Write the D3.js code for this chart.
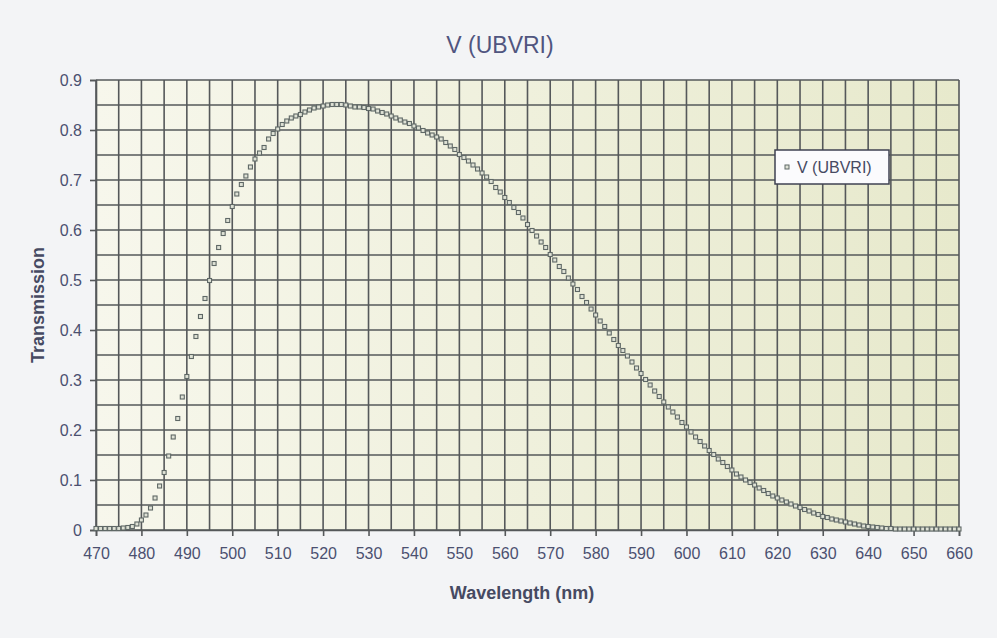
<!DOCTYPE html>
<html>
<head>
<meta charset="utf-8">
<script src="https://cdn.jsdelivr.net/npm/d3@7"></script>
<style>
	body { margin: 0; background: #f3f4f6; }
	text { font-family: "Liberation Sans", Arial, sans-serif; }
</style>
</head>
<body>
<script>
// wavelength samples (nm) and transmission
var wavelengths = d3.range(470, 661);
var transmission = [
	0.003, 0.003, 0.003, 0.003, 0.003, 0.003, 0.004, 0.005, 0.007, 0.012,
	0.020, 0.030, 0.044, 0.064, 0.088, 0.115, 0.148, 0.186, 0.223, 0.266,
	0.307, 0.347, 0.387, 0.427, 0.463, 0.499, 0.533, 0.565, 0.593, 0.619,
	0.647, 0.672, 0.691, 0.708, 0.726, 0.742, 0.754, 0.765, 0.782, 0.793,
	0.802, 0.811, 0.818, 0.824, 0.828, 0.831, 0.836, 0.840, 0.844, 0.846,
	0.848, 0.850, 0.851, 0.851, 0.851, 0.850, 0.848, 0.846, 0.846, 0.845,
	0.843, 0.842, 0.838, 0.835, 0.832, 0.828, 0.824, 0.820, 0.816, 0.813,
	0.808, 0.804, 0.799, 0.794, 0.790, 0.786, 0.782, 0.775, 0.768, 0.761,
	0.751, 0.745, 0.738, 0.730, 0.722, 0.714, 0.706, 0.697, 0.685, 0.676,
	0.665, 0.655, 0.645, 0.635, 0.624, 0.611, 0.599, 0.588, 0.576, 0.565,
	0.551, 0.540, 0.527, 0.517, 0.504, 0.492, 0.481, 0.467, 0.455, 0.442,
	0.430, 0.418, 0.407, 0.394, 0.381, 0.369, 0.359, 0.348, 0.336, 0.324,
	0.313, 0.301, 0.290, 0.278, 0.267, 0.256, 0.246, 0.236, 0.226, 0.215,
	0.206, 0.196, 0.186, 0.177, 0.168, 0.159, 0.151, 0.142, 0.135, 0.127,
	0.120, 0.112, 0.106, 0.100, 0.095, 0.090, 0.084, 0.079, 0.073, 0.068,
	0.064, 0.060, 0.056, 0.052, 0.048, 0.045, 0.041, 0.038, 0.034, 0.031,
	0.027, 0.025, 0.022, 0.020, 0.018, 0.016, 0.014, 0.012, 0.010, 0.008,
	0.007, 0.006, 0.005, 0.004, 0.003, 0.003, 0.002, 0.002, 0.002, 0.002,
	0.002, 0.002, 0.002, 0.002, 0.002, 0.002, 0.002, 0.002, 0.002, 0.002,
	0.002
];
var xTicks = d3.range(470, 661, 10);
var yTicks = [0, 0.1, 0.2, 0.3, 0.4, 0.5, 0.6, 0.7, 0.8, 0.9];
var xGrid = d3.range(470, 661, 5);
var yGrid = d3.range(0, 0.9001, 0.05);

var seriesName = 'V (UBVRI)';

var margin = {left: 96, right: 38, top: 80, bottom: 108};
var W = 997, H = 638;

var svg = d3.select('body').append('svg')
	.attr('width', W)
	.attr('height', H);

var grad = svg.append('defs').append('linearGradient')
	.attr('id', 'paper')
	.attr('x1', '0%').attr('x2', '100%')
	.attr('y1', '0%').attr('y2', '0%');
grad.append('stop').attr('offset', '0%').attr('stop-color', '#f7f7ec');
grad.append('stop').attr('offset', '100%').attr('stop-color', '#e7e9cc');

var x = d3.scaleLinear().domain([470, 660]).range([margin.left, W - margin.right]);
var y = d3.scaleLinear().domain([0, 0.9]).range([H - margin.bottom, margin.top]);

// plot area
svg.append('rect')
	.attr('x', x(470))
	.attr('y', y(0.9))
	.attr('width', x(660) - x(470))
	.attr('height', y(0) - y(0.9))
	.attr('fill', 'url(#paper)');

var grid = svg.append('g');
grid.selectAll('.vg')
	.data(xGrid).enter()
	.append('line')
	.attr('x1', function(d) { return x(d); })
	.attr('x2', function(d) { return x(d); })
	.attr('y1', y(0))
	.attr('y2', y(0.9))
	.attr('stroke', '#55585a')
	.attr('stroke-width', 1.6);
grid.selectAll('.hg')
	.data(yGrid).enter()
	.append('line')
	.attr('x1', x(470))
	.attr('x2', x(660))
	.attr('y1', function(d) { return y(d); })
	.attr('y2', function(d) { return y(d); })
	.attr('stroke', '#55585a')
	.attr('stroke-width', 1.6);

// axes
var xAxis = svg.append('g')
	.attr('transform', 'translate(0,' + y(0) + ')')
	.call(d3.axisBottom(x).tickValues(xTicks).tickSize(6).tickPadding(12).tickFormat(d3.format('d')));
var yAxis = svg.append('g')
	.attr('transform', 'translate(' + x(470) + ',0)')
	.call(d3.axisLeft(y).tickValues(yTicks).tickSize(6).tickPadding(8).tickFormat(function(d) { return d === 0 ? '0' : d3.format('.1f')(d); }));

[xAxis, yAxis].forEach(function(a) {
	a.select('.domain').attr('stroke', '#55585a').attr('stroke-width', 1.6);
	a.selectAll('.tick line').attr('stroke', '#55585a').attr('stroke-width', 1.6);
	a.selectAll('.tick text')
		.attr('fill', '#4b5070')
		.style('font-size', '16px');
});

// the points
svg.append('g').selectAll('rect')
	.data(wavelengths).enter()
	.append('rect')
	.attr('x', function(d) { return x(d) - 2; })
	.attr('y', function(d, i) { return y(transmission[i]) - 2; })
	.attr('width', 4)
	.attr('height', 4)
	.attr('fill', '#dfe2d6')
	.attr('stroke', '#5f6866')
	.attr('stroke-width', 1.1);

// title
svg.append('text')
	.attr('x', 500)
	.attr('y', 53)
	.attr('text-anchor', 'middle')
	.attr('fill', '#50557f')
	.style('font-size', '23px')
	.text(seriesName);

svg.append('text')
	.attr('transform', 'translate(44,' + ((y(0) + y(0.9)) / 2) + ') rotate(-90)')
	.attr('text-anchor', 'middle')
	.attr('fill', '#464a62')
	.style('font-size', '18px')
	.style('font-weight', 'bold')
	.text('Transmission');

svg.append('text')
	.attr('x', 522)
	.attr('y', 599)
	.attr('text-anchor', 'middle')
	.attr('fill', '#464a62')
	.style('font-size', '18px')
	.style('font-weight', 'bold')
	.text('Wavelength (nm)');

// legend
var lg = svg.append('g').attr('transform', 'translate(775,150)');
lg.append('rect')
	.attr('width', 114)
	.attr('height', 34)
	.attr('fill', '#fbfbfd')
	.attr('stroke', '#3f4252')
	.attr('stroke-width', 1.5);
lg.append('rect')
	.attr('x', 10)
	.attr('y', 15)
	.attr('width', 4)
	.attr('height', 4)
	.attr('fill', '#dfe2d6')
	.attr('stroke', '#5f6866');
lg.append('text')
	.attr('x', 22)
	.attr('y', 23)
	.attr('fill', '#464a62')
	.style('font-size', '16px')
	.text(seriesName);
</script>
</body>
</html>
